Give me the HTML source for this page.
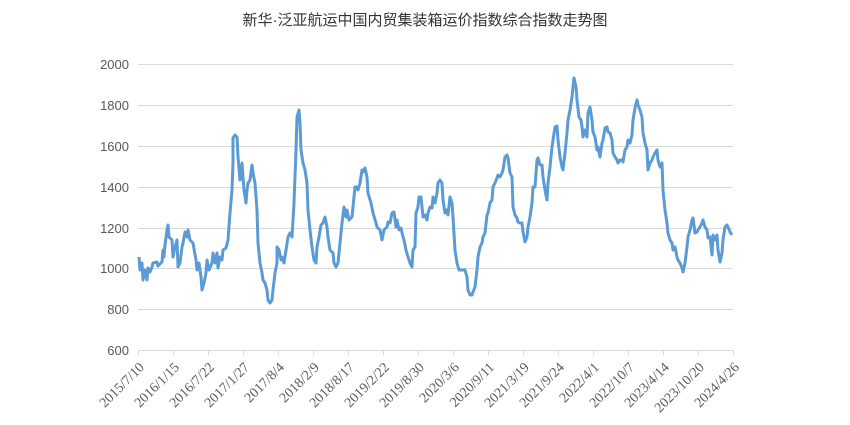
<!DOCTYPE html>
<html><head><meta charset="utf-8"><style>
body{margin:0;background:#fff;}
svg{display:block;}
</style></head><body>
<svg width="850" height="425" xmlns="http://www.w3.org/2000/svg">
<text x="425" y="25" text-anchor="middle" font-family="'Liberation Sans','Noto Sans CJK SC',sans-serif" font-size="15" fill="#333">新华·泛亚航运中国内贸集装箱运价指数综合指数走势图</text>
<g stroke="#d9d9d9" stroke-width="1">
<line x1="138" y1="64.5" x2="733" y2="64.5"/>
<line x1="138" y1="105.5" x2="733" y2="105.5"/>
<line x1="138" y1="146.5" x2="733" y2="146.5"/>
<line x1="138" y1="187.5" x2="733" y2="187.5"/>
<line x1="138" y1="228.5" x2="733" y2="228.5"/>
<line x1="138" y1="268.5" x2="733" y2="268.5"/>
<line x1="138" y1="309.5" x2="733" y2="309.5"/>
<line x1="138" y1="350.5" x2="733" y2="350.5"/>
</g>
<g stroke="#d9d9d9" stroke-width="1" id="ticks"></g>
<g font-family="'Liberation Sans',sans-serif" font-size="13" fill="#595959" text-anchor="end">
<text x="129" y="69">2000</text><text x="129" y="110">1800</text><text x="129" y="151">1600</text><text x="129" y="192">1400</text><text x="129" y="233">1200</text><text x="129" y="273">1000</text><text x="129" y="314">800</text><text x="129" y="355">600</text>
</g>
<g id="xl" font-family="'Liberation Serif',serif" font-size="14" fill="#595959" text-anchor="end"></g>
<polyline fill="none" stroke="#5b9bd5" stroke-width="3" stroke-linejoin="round" points="139,257 140,270 142,263 143,280 145,270 147,280 148,268 150,272 152,267 153,263 157,262 158,266 162,262 163,250 164,257 165,245 167,230 168,225 169,237 172,240 173,257 175,247 177,240 178,267 180,263 182,247 183,243 185,232 187,237 188,230 190,240 193,243 196,260 197,270 199,263 201,277 202,290 204,283 206,273 207,260 209,270 212,263 213,253 215,263 217,253 218,268 220,257 222,260 223,250 226,248 228,240 230,213 232,190 233,163 233,138 235,135 237,137 238,157 240,180 242,163 243,177 244,190 246,203 247,190 248,183 250,180 252,165 253,173 255,183 257,210 258,243 260,263 262,273 263,280 265,283 267,290 268,300 270,303 272,300 273,290 275,273 277,263 277,247 279,250 281,260 282,257 284,263 286,250 288,237 290,233 292,237 294,203 296,150 297,117 299,110 300,123 301,150 303,163 305,170 307,183 308,210 310,230 312,247 314,260 316,263 317,247 319,237 321,225 323,223 325,217 327,227 328,237 330,250 333,253 334,263 336,267 338,263 340,243 342,223 344,207 346,217 347,210 349,220 352,217 353,207 355,187 357,187 358,190 360,183 362,170 363,172 365,168 367,177 368,193 371,203 373,213 376,223 377,227 380,230 382,240 384,230 387,227 388,222 390,223 392,213 394,212 396,227 397,220 399,230 401,228 402,233 404,240 406,250 408,257 410,263 412,267 413,250 415,247 416,213 418,207 419,197 421,197 422,207 423,217 425,215 427,220 428,213 430,207 432,208 433,197 435,203 437,193 438,183 440,180 442,183 443,200 445,213 447,210 448,215 450,197 452,203 453,217 455,250 457,263 459,270 463,270 465,270 467,277 468,290 470,295 472,295 473,292 475,287 477,270 478,257 480,247 482,243 483,237 485,233 487,215 488,213 490,203 492,200 493,187 495,183 497,178 498,175 500,177 502,173 503,170 505,157 507,155 508,158 510,173 512,177 513,207 515,215 517,218 518,222 520,223 522,223 523,232 525,242 527,237 528,227 530,217 532,203 533,187 535,187 537,160 538,158 540,165 542,165 543,177 545,190 547,200 548,183 550,167 552,147 553,140 555,127 557,126 558,140 560,157 562,167 563,170 565,153 567,133 568,120 570,110 572,97 573,87 574,78 576,87 577,100 579,117 581,120 582,127 583,137 585,130 587,137 588,113 590,107 592,120 593,132 595,137 597,150 598,147 600,157 602,143 603,140 605,128 607,127 608,132 610,133 612,140 613,153 615,157 617,160 618,163 620,160 622,160 623,162 625,150 627,147 628,140 630,143 632,135 633,120 635,108 637,100 638,105 640,110 642,117 643,133 645,143 647,150 648,170 650,163 652,160 653,157 655,153 657,150 658,160 660,167 662,163 663,190 665,210 667,223 668,233 670,240 672,243 673,250 675,247 677,257 678,260 680,263 682,268 683,272 685,263 687,247 688,237 690,230 692,220 693,218 695,233 697,232 698,230 700,227 702,223 703,220 705,227 707,230 708,238 710,237 712,255 713,235 715,240 717,235 718,250 720,262 722,253 723,240 725,227 727,225 728,227 730,232 732,235"/>
</svg>
<script>
(function(){
var ns="http://www.w3.org/2000/svg";
var t=document.getElementById("ticks");
for(var i=0;i<=17;i++){var x=138.5+i*35;var l=document.createElementNS(ns,"line");l.setAttribute("x1",x);l.setAttribute("x2",x);l.setAttribute("y1",350);l.setAttribute("y2",355);t.appendChild(l);}
var labs=["2015/7/10","2016/1/15","2016/7/22","2017/1/27","2017/8/4","2018/2/9","2018/8/17","2019/2/22","2019/8/30","2020/3/6","2020/9/11","2021/3/19","2021/9/24","2022/4/1","2022/10/7","2023/4/14","2023/10/20","2024/4/26"];
var g=document.getElementById("xl");
for(var i=0;i<labs.length;i++){var x=145+i*35;var y=368;var e=document.createElementNS(ns,"text");e.setAttribute("x",x);e.setAttribute("y",y);e.setAttribute("transform","rotate(-45 "+x+" "+y+")");e.textContent=labs[i];g.appendChild(e);}
})();
</script>
</body></html>
